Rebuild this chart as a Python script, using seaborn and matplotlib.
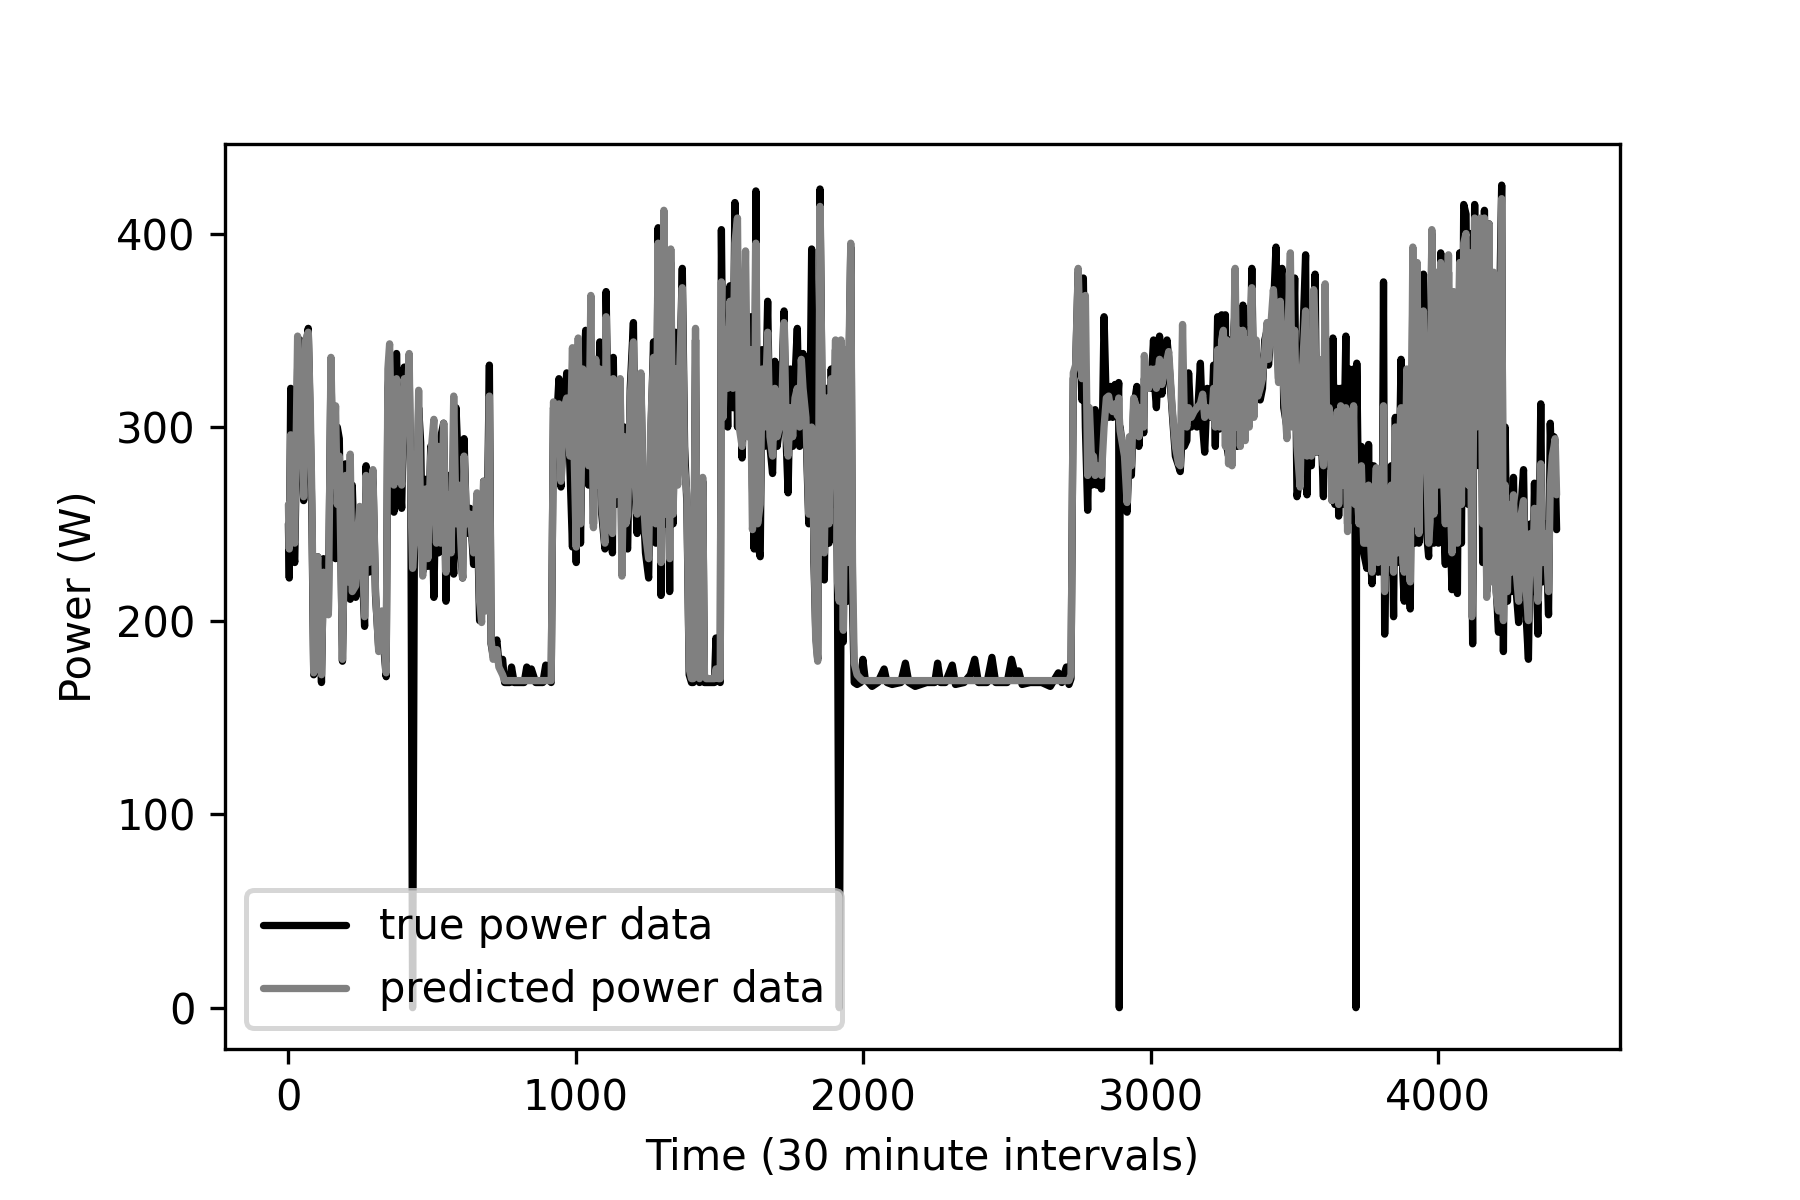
import numpy as np
import pandas as pd
import matplotlib
matplotlib.use("Agg")
import matplotlib.pyplot as plt
import seaborn as sns

# ================== DATA ==================
time_a = [0, 3, 8, 14, 22, 32, 40, 48, 53, 60,
          69, 76, 82, 88, 95, 102, 115, 122, 130, 139,
          148, 156, 164, 170, 177, 188, 199, 207, 215, 222,
          234, 241, 248, 256, 265, 270, 280, 294, 303, 314,
          325, 340, 346, 352, 360, 367, 376, 385, 394, 403,
          412, 420, 426, 432, 438, 446, 453, 460, 467, 477,
          485, 495, 506, 515, 522, 530, 540, 548, 557, 566,
          575, 583, 592, 600, 606, 611, 620, 632, 644, 656,
          665, 672, 679, 688, 699, 705, 712, 725, 732, 745]
true_a = [250, 222, 320, 240, 230, 330, 345, 290, 262, 340,
          351, 300, 250, 172, 210, 233, 168, 232, 205, 205,
          330, 260, 232, 300, 294, 179, 281, 215, 211, 270,
          212, 240, 255, 230, 197, 280, 225, 275, 213, 186,
          200, 171, 320, 330, 275, 256, 338, 280, 258, 331,
          300, 330, 260, 0, 235, 250, 310, 292, 225, 273,
          228, 290, 212, 290, 235, 295, 302, 210, 275, 245,
          224, 310, 276, 235, 222, 294, 245, 258, 229, 262,
          200, 205, 272, 210, 332, 188, 182, 190, 178, 180]
pred_a = [260, 237, 296, 250, 240, 347, 320, 300, 264, 345,
          349, 310, 260, 173, 215, 233, 172, 225, 210, 203,
          336, 270, 311, 260, 285, 180, 275, 220, 286, 215,
          218, 245, 259, 240, 202, 275, 230, 278, 215, 184,
          205, 173, 330, 343, 280, 270, 325, 285, 270, 325,
          305, 338, 265, 227, 240, 255, 319, 250, 223, 268,
          232, 285, 304, 240, 290, 240, 302, 225, 265, 235,
          316, 250, 270, 240, 222, 285, 250, 255, 235, 266,
          210, 199, 272, 205, 316, 190, 180, 185, 176, 172]

time_flat1 = [752, 762, 770, 776, 785, 800, 812, 820, 829, 837, 845, 860, 875, 885, 895, 905, 914]
true_flat1 = [168, 168, 168, 176, 168, 168, 168, 168, 176, 170, 175, 168, 168, 168, 177, 170, 168]
pred_flat1 = [169, 169, 169, 169, 169, 169, 169, 169, 169, 169, 169, 169, 169, 169, 169, 169, 169]

time_b = [922, 932, 941, 948, 956, 968, 979, 988, 994, 1001,
          1008, 1016, 1024, 1034, 1044, 1052, 1061, 1069, 1076, 1083,
          1090, 1101, 1105, 1112, 1120, 1127, 1130, 1138, 1146, 1154,
          1160, 1168, 1174, 1180, 1189, 1200, 1207, 1213, 1220, 1226,
          1234, 1242, 1253, 1260, 1270, 1278, 1286, 1296, 1306, 1314,
          1321, 1326, 1330, 1338, 1346, 1354, 1362, 1370, 1378, 1386,
          1394, 1402, 1408, 1416, 1423, 1430, 1441, 1447, 1453, 1462,
          1472, 1482, 1487, 1496, 1502]
true_b = [310, 300, 325, 269, 300, 328, 280, 238, 300, 230,
          330, 240, 320, 350, 270, 340, 250, 330, 280, 344,
          255, 237, 370, 300, 270, 235, 336, 260, 290, 322,
          225, 300, 240, 237, 320, 354, 265, 245, 300, 325,
          260, 235, 222, 290, 344, 240, 403, 213, 400, 250,
          340, 215, 385, 250, 349, 280, 330, 382, 290, 260,
          172, 168, 168, 345, 170, 168, 272, 168, 168, 168,
          168, 168, 191, 170, 168]
pred_b = [313, 305, 312, 272, 308, 315, 285, 341, 285, 238,
          346, 250, 330, 320, 280, 368, 248, 335, 270, 330,
          260, 240, 357, 290, 275, 245, 325, 265, 280, 325,
          223, 295, 250, 255, 315, 344, 270, 255, 295, 328,
          265, 245, 232, 300, 336, 250, 395, 230, 412, 255,
          350, 232, 392, 255, 330, 270, 335, 372, 280, 265,
          175, 170, 170, 351, 172, 170, 274, 172, 170, 170,
          170, 170, 175, 170, 170]

time_c = [1506, 1512, 1520, 1528, 1536, 1546, 1553, 1562, 1568, 1578,
          1590, 1598, 1606, 1614, 1620, 1626, 1632, 1641, 1648, 1656,
          1667, 1675, 1684, 1692, 1700, 1708, 1716, 1724, 1732, 1738,
          1746, 1754, 1762, 1770, 1778, 1784, 1790, 1800, 1810, 1820,
          1828, 1834, 1841, 1849, 1857, 1864, 1872, 1880, 1888, 1896,
          1903, 1910, 1916, 1922, 1930, 1938, 1944, 1950, 1956, 1962]
true_c = [402, 310, 340, 300, 373, 310, 416, 300, 350, 284,
          340, 300, 357, 270, 237, 422, 240, 233, 340, 290,
          365, 290, 276, 334, 290, 300, 320, 360, 290, 266,
          330, 290, 325, 351, 290, 300, 338, 300, 250, 392,
          230, 195, 180, 423, 300, 221, 320, 240, 330, 260,
          340, 210, 0, 205, 189, 340, 210, 330, 393, 210]
pred_c = [375, 305, 350, 320, 365, 320, 395, 408, 300, 290,
          391, 295, 340, 247, 260, 395, 250, 260, 330, 300,
          349, 295, 285, 320, 295, 300, 310, 354, 295, 285,
          310, 295, 315, 320, 300, 335, 320, 305, 255, 300,
          240, 190, 179, 414, 310, 235, 315, 250, 325, 290,
          345, 220, 210, 345, 195, 340, 230, 340, 395, 230]

time_flat2 = [1968, 1978, 1990, 1998, 2006, 2018, 2030, 2050, 2072, 2082,
              2100, 2130, 2146, 2158, 2180, 2220, 2248, 2258, 2268, 2285,
              2309, 2320, 2350, 2372, 2387, 2400, 2430, 2447, 2460, 2500,
              2515, 2528, 2540, 2552, 2580, 2620, 2650, 2678, 2690, 2706, 2715]
true_flat2 = [168, 167, 168, 180, 170, 168, 166, 168, 175, 168,
              167, 168, 178, 168, 166, 168, 168, 178, 168, 168,
              177, 167, 168, 172, 180, 168, 168, 181, 168, 168,
              180, 172, 174, 167, 168, 168, 166, 173, 168, 176, 167]
pred_flat2 = [178, 172, 170, 169, 169, 169, 169, 169, 169, 169,
              169, 169, 169, 169, 169, 169, 169, 169, 169, 169,
              169, 169, 169, 169, 169, 169, 169, 169, 169, 169,
              169, 169, 169, 169, 169, 169, 169, 169, 169, 169, 169]

time_e = [2722, 2730, 2738, 2747, 2754, 2760, 2765, 2772, 2780, 2786,
          2794, 2800, 2806, 2812, 2820, 2828, 2837, 2845, 2853, 2859,
          2867, 2875, 2883, 2888, 2890, 2893, 2900, 2908, 2917, 2925,
          2932, 2940, 2951, 2958, 2966, 2975, 2977, 2985, 2992, 3000,
          3009, 3014, 3019, 3030, 3038, 3048, 3056, 3062, 3073, 3085,
          3096, 3102, 3110, 3116, 3125, 3131, 3140, 3150, 3160, 3172,
          3180, 3187, 3196, 3204, 3212, 3218, 3224, 3232, 3239, 3246,
          3252, 3259, 3264, 3270, 3276, 3282, 3288, 3293, 3300, 3306,
          3311, 3320, 3328, 3334, 3342, 3351, 3358, 3366, 3372, 3380,
          3388, 3396, 3404, 3409, 3416, 3426, 3435, 3444, 3450, 3456,
          3462, 3473, 3479, 3485, 3492, 3500, 3508, 3519, 3527, 3538,
          3543, 3550, 3558, 3566, 3571, 3577, 3585, 3592, 3600, 3606,
          3612, 3620, 3630, 3633, 3640, 3648, 3653, 3660, 3668, 3678,
          3684, 3690, 3698, 3705, 3710, 3713, 3716, 3724, 3732, 3740]
true_e = [170, 325, 330, 380, 340, 314, 377, 300, 257, 300,
          270, 295, 309, 270, 272, 268, 357, 310, 305, 321,
          305, 322, 310, 323, 0, 300, 290, 280, 256, 290,
          275, 310, 321, 290, 315, 297, 325, 320, 330, 320,
          345, 320, 310, 347, 317, 330, 345, 335, 310, 285,
          280, 277, 300, 290, 293, 328, 300, 305, 300, 333,
          300, 287, 320, 305, 305, 332, 290, 357, 299, 358,
          300, 358, 290, 285, 345, 282, 350, 360, 290, 340,
          295, 363, 298, 350, 305, 382, 310, 340, 330, 314,
          320, 345, 350, 332, 345, 360, 393, 325, 375, 382,
          310, 300, 340, 350, 320, 377, 264, 275, 340, 389,
          265, 330, 280, 330, 379, 287, 330, 300, 264, 340,
          280, 340, 262, 346, 260, 320, 254, 320, 260, 347,
          250, 330, 260, 330, 255, 0, 333, 240, 290, 235]
pred_e = [172, 328, 332, 382, 345, 325, 360, 368, 275, 310,
          280, 285, 275, 280, 278, 275, 300, 315, 316, 310,
          308, 312, 306, 315, 305, 298, 292, 285, 261, 295,
          280, 315, 310, 295, 310, 300, 337, 325, 320, 330,
          325, 330, 320, 335, 322, 330, 335, 339, 312, 290,
          281, 280, 353, 305, 300, 310, 305, 308, 310, 312,
          317, 305, 310, 308, 305, 320, 300, 340, 300, 345,
          350, 290, 345, 281, 340, 280, 345, 382, 300, 350,
          290, 350, 293, 345, 300, 372, 305, 345, 316, 320,
          325, 340, 354, 335, 350, 371, 350, 323, 365, 345,
          320, 294, 360, 390, 300, 350, 290, 269, 330, 360,
          285, 320, 285, 371, 350, 287, 335, 295, 280, 374,
          285, 310, 262, 300, 270, 308, 260, 311, 270, 310,
          246, 300, 265, 311, 260, 265, 270, 250, 280, 240]

time_f = [3751, 3757, 3763, 3769, 3775, 3784, 3790, 3798, 3804, 3809,
          3813, 3820, 3828, 3836, 3844, 3850, 3858, 3864, 3870, 3876,
          3881, 3890, 3896, 3902, 3911, 3918, 3926, 3932, 3940, 3948,
          3956, 3966, 3971, 3977, 3984, 3992, 4000, 4008, 4016, 4024,
          4030, 4035, 4041, 4047, 4053, 4060, 4066, 4074, 4080, 4088,
          4096, 4104, 4110, 4116, 4119, 4126, 4132, 4139, 4146, 4154,
          4160, 4168, 4176, 4184, 4192, 4200, 4209, 4215, 4220, 4226,
          4232, 4240, 4246, 4253, 4261, 4268, 4279, 4288, 4296, 4304,
          4313, 4320, 4328, 4334, 4340, 4346, 4352, 4356, 4362, 4370,
          4377, 4383, 4389, 4396, 4402, 4406, 4411]
true_f = [227, 291, 235, 219, 280, 260, 225, 240, 225, 375,
          193, 270, 225, 280, 202, 305, 230, 280, 335, 225,
          210, 300, 225, 206, 370, 240, 300, 240, 340, 379,
          250, 233, 300, 400, 240, 350, 240, 390, 260, 229,
          320, 380, 250, 216, 360, 260, 214, 390, 240, 415,
          410, 260, 400, 240, 188, 415, 280, 292, 400, 230,
          412, 215, 405, 230, 260, 220, 194, 380, 425, 184,
          300, 210, 245, 215, 274, 220, 199, 260, 278, 205,
          180, 250, 215, 271, 225, 193, 260, 312, 220, 250,
          230, 203, 302, 270, 295, 280, 247]
pred_f = [240, 270, 245, 225, 250, 279, 230, 245, 235, 311,
          215, 265, 230, 270, 225, 300, 235, 290, 310, 230,
          225, 330, 230, 220, 393, 250, 385, 245, 340, 360,
          300, 240, 251, 402, 255, 380, 270, 385, 280, 250,
          300, 389, 265, 235, 370, 270, 240, 385, 260, 395,
          400, 270, 390, 202, 230, 408, 300, 380, 408, 250,
          408, 212, 405, 220, 380, 215, 205, 350, 418, 200,
          270, 215, 260, 225, 265, 230, 210, 255, 262, 218,
          200, 245, 225, 258, 230, 210, 250, 281, 230, 245,
          235, 215, 270, 285, 290, 294, 265]

# ================== PLOT ==================
df = pd.DataFrame({
    "time": time_a + time_flat1 + time_b + time_c + time_flat2 + time_e + time_f,
    "true": true_a + true_flat1 + true_b + true_c + true_flat2 + true_e + true_f,
    "pred": pred_a + pred_flat1 + pred_b + pred_c + pred_flat2 + pred_e + pred_f,
})

fig, ax = plt.subplots(figsize=(6, 4), dpi=300)
fig.subplots_adjust(bottom=0.126, top=0.88)
sns.lineplot(data=df, x="time", y="true", color="black", label="true power data",
             estimator=None, solid_capstyle="round", linewidth=1.75, ax=ax)
sns.lineplot(data=df, x="time", y="pred", color="grey", label="predicted power data",
             estimator=None, solid_capstyle="round", linewidth=1.75, ax=ax)
ax.set_xlabel("Time (30 minute intervals)")
ax.set_ylabel("Power (W)")
leg = ax.legend(loc="lower left")
leg.get_frame().set_linewidth(1.2)
fig.savefig("out.png", dpi=300)
